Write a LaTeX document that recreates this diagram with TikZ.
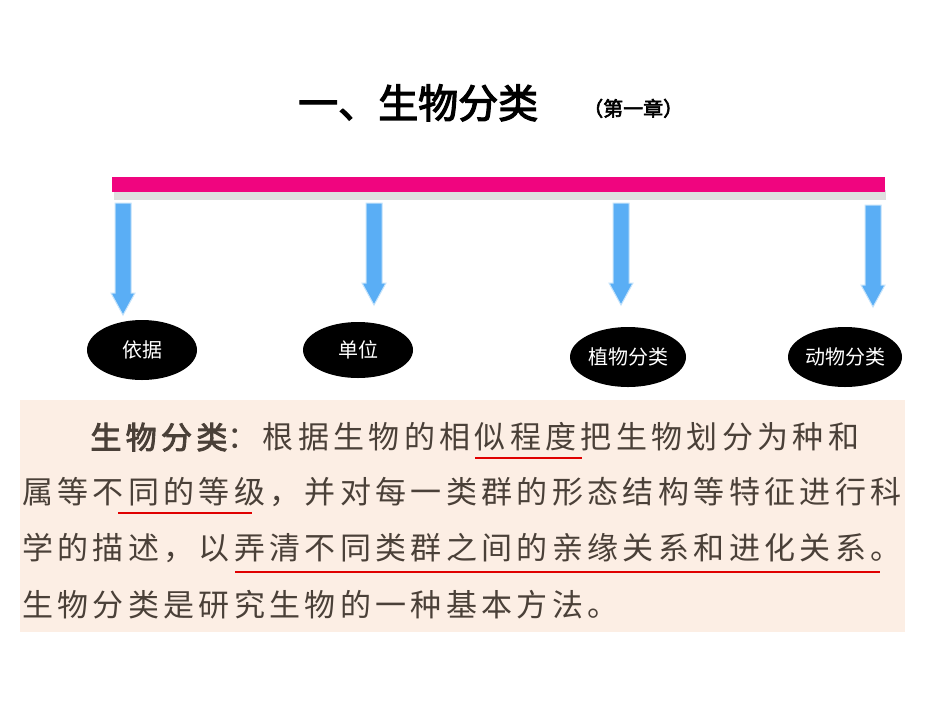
\documentclass[tikz,border=0pt]{standalone}
\usepackage{fontspec}
\newfontfamily\cjk{Noto Sans CJK SC}
\newfontfamily\cjktext[LetterSpace=14]{Noto Sans CJK SC}
\newfontfamily\cjkbold[FakeBold=3,LetterSpace=14]{Noto Sans CJK SC}
\newfontfamily\cjktitle[FakeBold=3]{Noto Sans CJK SC}
\definecolor{barpink}{HTML}{F0057F}
\definecolor{arrowblue}{HTML}{5AAEF5}
\definecolor{boxbg}{HTML}{FCEEE4}
\definecolor{txt}{HTML}{4A4038}
\definecolor{ulred}{HTML}{E00000}
\tikzset{
  oval/.style={ellipse, fill=black, text=white, font=\cjk\fontsize{20}{22}\selectfont, inner sep=0pt},
  blockarrow/.style={fill=arrowblue, draw=arrowblue!35, line width=1pt},
  bodyline/.style={anchor=west, inner sep=0pt, text=txt, font=\cjktext\fontsize{31}{33}\selectfont},
  uline/.style={ulred, line width=1.6pt}
}
\usetikzlibrary{shapes.geometric}
\begin{document}
\begin{tikzpicture}[x=1pt,y=-1pt]
\useasboundingbox (0,0) rectangle (950,713);
\fill[white] (0,0) rectangle (950,713);
% title
\node[inner sep=0pt, anchor=base west, font=\cjktitle\fontsize{40}{42}\selectfont] (title) at (298,118) {一、生物分类};
\node[inner sep=0pt, anchor=base west, font=\cjktitle\fontsize{20}{22}\selectfont] (chap) at (583,116) {（第一章）};
% bar
\fill[gray!25] (114,190) rectangle (886,200);
\fill[barpink] (112,177) rectangle (885,192);
\coordinate (b1) at (123,203);
\coordinate (b2) at (374,203);
\coordinate (b3) at (621,203);
\coordinate (b4) at (873,205);
% ellipses
\node[oval, minimum width=110, minimum height=60] (e1) at (142,350) {依据};
\node[oval, minimum width=110, minimum height=56] (e2) at (358,350) {单位};
\node[oval, minimum width=116, minimum height=60] (e3) at (628,357) {植物分类};
\node[oval, minimum width=114, minimum height=60] (e4) at (845,357) {动物分类};
% arrows
\foreach \c/\len in {b1/112,b2/102,b3/102,b4/102}{
  \path[blockarrow] (\c) ++(-8,0) -- ++(16,0) -- ++(0,\len-22) -- ++(4,0) -- ++(-12,22) -- ++(-12,-22) -- ++(4,0) -- cycle;
}
% text box
\fill[boxbg] (20,400) rectangle (905,632);
\node[bodyline] (l1) at (22,437) {\hspace{2.2em}{\cjkbold 生物分类}：根据生物的相似程度把生物划分为种和};
\node[bodyline] (l2) at (22,492) {属等不同的等级，并对每一类群的形态结构等特征进行科};
\node[bodyline] (l3) at (22,548) {学的描述，以弄清不同类群之间的亲缘关系和进化关系。};
\node[bodyline] (l4) at (22,605) {生物分类是研究生物的一种基本方法。};
\draw[uline] (475,458) -- (582,458);
\draw[uline] (118,513) -- (252,513);
\draw[uline] (235,572) -- (880,572);
\end{tikzpicture}
\end{document}
